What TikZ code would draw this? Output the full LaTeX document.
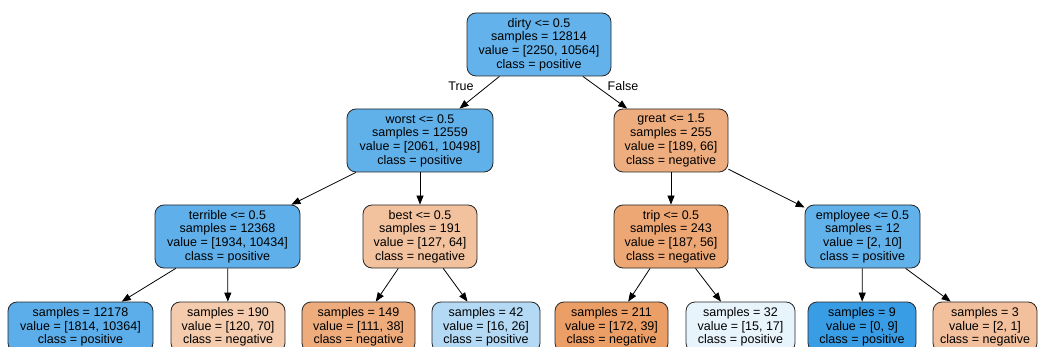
\documentclass[tikz,border=0pt]{standalone}
\usepackage{fontspec}
\setmainfont{Liberation Sans}
\usetikzlibrary{arrows.meta}

% node fill colours: blue = positive, orange = negative (shaded by purity)
\definecolor{cRoot}{RGB}{99,178,235}
\definecolor{cWorst}{RGB}{96,176,234}
\definecolor{cGreat}{RGB}{238,173,126}
\definecolor{cTerrible}{RGB}{94,175,234}
\definecolor{cBest}{RGB}{242,193,157}
\definecolor{cTrip}{RGB}{237,167,116}
\definecolor{cEmployee}{RGB}{97,177,234}
\definecolor{cLa}{RGB}{92,174,234}
\definecolor{cLb}{RGB}{244,203,173}
\definecolor{cLc}{RGB}{238,172,125}
\definecolor{cLd}{RGB}{179,217,245}
\definecolor{cLe}{RGB}{235,158,102}
\definecolor{cLf}{RGB}{232,244,252}
\definecolor{cLg}{RGB}{57,157,229}
\definecolor{cLh}{RGB}{242,192,156}

\tikzset{
  treenode/.style={draw=black!85, line width=0.8pt, rounded corners=9pt,
    inner sep=0pt, align=center, minimum height=63pt,
    font=\fontsize{12.5}{13.7}\selectfont},
  leafnode/.style={treenode, minimum height=50pt},
  edgelabel/.style={font=\fontsize{12.5}{13.7}\selectfont, inner sep=0pt},
  branch/.style={draw=black, line width=0.8pt, -{Triangle[length=9pt,width=7pt]}}
}

\begin{document}
\begin{tikzpicture}[x=1pt,y=-1pt]
\useasboundingbox (0,0) rectangle (1040,347);

% decision nodes
\node[treenode, fill=cRoot, minimum width=144pt] (root) at (539,44.5)
  {dirty <= 0.5\\samples = 12814\\value = [2250, 10564]\\class = positive};
\node[treenode, fill=cWorst, minimum width=146pt] (worst) at (420,140.5)
  {worst <= 0.5\\samples = 12559\\value = [2061, 10498]\\class = positive};
\node[treenode, fill=cGreat, minimum width=114pt] (great) at (671,140.5)
  {great <= 1.5\\samples = 255\\value = [189, 66]\\class = negative};
\node[treenode, fill=cTerrible, minimum width=145pt] (terrible) at (227.5,236.5)
  {terrible <= 0.5\\samples = 12368\\value = [1934, 10434]\\class = positive};
\node[treenode, fill=cBest, minimum width=114pt] (best) at (420,236.5)
  {best <= 0.5\\samples = 191\\value = [127, 64]\\class = negative};
\node[treenode, fill=cTrip, minimum width=114pt] (trip) at (671,236.5)
  {trip <= 0.5\\samples = 243\\value = [187, 56]\\class = negative};
\node[treenode, fill=cEmployee, minimum width=115pt] (employee) at (862.5,236.5)
  {employee <= 0.5\\samples = 12\\value = [2, 10]\\class = positive};

% leaves
\node[leafnode, fill=cLa, minimum width=145pt] (la) at (80.5,327)
  {samples = 12178\\value = [1814, 10364]\\class = positive};
\node[leafnode, fill=cLb, minimum width=114pt] (lb) at (228,327)
  {samples = 190\\value = [120, 70]\\class = negative};
\node[leafnode, fill=cLc, minimum width=113pt] (lc) at (358.5,327)
  {samples = 149\\value = [111, 38]\\class = negative};
\node[leafnode, fill=cLd, minimum width=108pt] (ld) at (486,327)
  {samples = 42\\value = [16, 26]\\class = positive};
\node[leafnode, fill=cLe, minimum width=113pt] (le) at (611.5,327)
  {samples = 211\\value = [172, 39]\\class = negative};
\node[leafnode, fill=cLf, minimum width=109pt] (lf) at (740.5,327)
  {samples = 32\\value = [15, 17]\\class = positive};
\node[leafnode, fill=cLg, minimum width=108pt] (lg) at (862,327)
  {samples = 9\\value = [0, 9]\\class = positive};
\node[leafnode, fill=cLh, minimum width=104pt] (lh) at (985,327)
  {samples = 3\\value = [2, 1]\\class = negative};

% branches
\draw[branch] (root) -- (worst);
\draw[branch] (root) -- (great);
\draw[branch] (worst) -- (terrible);
\draw[branch] (worst) -- (best);
\draw[branch] (great) -- (trip);
\draw[branch] (great) -- (employee);
\draw[branch] (terrible) -- (la);
\draw[branch] (terrible) -- (lb);
\draw[branch] (best) -- (lc);
\draw[branch] (best) -- (ld);
\draw[branch] (trip) -- (le);
\draw[branch] (trip) -- (lf);
\draw[branch] (employee) -- (lg);
\draw[branch] (employee) -- (lh);

% branch labels
\node[edgelabel] (ltrue) at (461,86) {True};
\node[edgelabel] (lfalse) at (623,86) {False};
\end{tikzpicture}
\end{document}
